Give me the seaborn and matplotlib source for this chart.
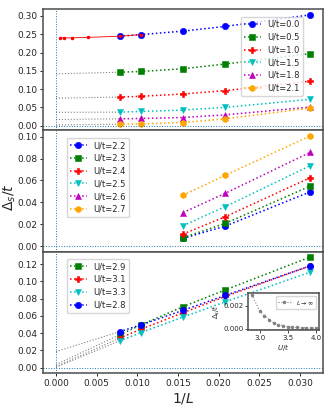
import matplotlib
matplotlib.use('Agg')
import matplotlib.pyplot as plt
from matplotlib.ticker import MultipleLocator
import seaborn as sns

# system sizes
L_all = [128, 96, 64, 48, 32]
L_mid = [64, 48, 32]
L_big = [2048, 1024, 512, 256, 128, 96]

# top panel: U/t = 0.0 ... 2.1
top_labels = ["U/t=0.0", "U/t=0.5", "U/t=1.0", "U/t=1.5", "U/t=1.8", "U/t=2.1"]
top_values = [
    [0.2445, 0.249, 0.2586, 0.2715, 0.303],
    [0.146, 0.148, 0.1555, 0.1685, 0.197],
    [0.078, 0.080, 0.0865, 0.0956, 0.1215],
    [0.0367, 0.0385, 0.0423, 0.0497, 0.0718],
    [0.0184, 0.0193, 0.022, 0.0293, 0.0506],
    [0.0036, 0.0045, 0.0083, 0.0184, 0.0478],
]
top_extrap = [None, 0.1415, 0.0748, 0.0362, 0.0166, 0.0015]
u0_big = [0.2398, 0.2399, 0.2401, 0.2415, 0.2445, 0.249]

# middle panel: U/t = 2.2 ... 2.7
mid_labels = ["U/t=2.2", "U/t=2.3", "U/t=2.4", "U/t=2.5", "U/t=2.6", "U/t=2.7"]
mid_values = [
    [0.0071, 0.0183, 0.0495],
    [0.0077, 0.0208, 0.0547],
    [0.011, 0.0269, 0.0624],
    [0.0187, 0.0361, 0.0734],
    [0.0306, 0.0483, 0.0856],
    [0.0465, 0.0648, 0.1006],
]

# bottom panel: U/t = 2.9, 3.1, 3.3, 2.8
bot_labels = ["U/t=2.9", "U/t=3.1", "U/t=3.3", "U/t=2.8"]
bot_values = [
    [0.0378, 0.0493, 0.0705, 0.090, 0.128],
    [0.034, 0.0443, 0.0635, 0.0824, 0.1178],
    [0.0308, 0.0404, 0.0585, 0.0762, 0.1105],
    [0.0416, 0.0493, 0.0663, 0.0836, 0.1178],
]
bot_extrap = [0.0035, 0.0012, 0.0004, 0.0185]

# inset: extrapolated gap vs U/t
inset_U = [2.85, 3.0, 3.08, 3.17, 3.25, 3.33, 3.42, 3.5, 3.58, 3.67, 3.75, 3.83, 3.92, 4.0]
inset_gap = [0.0030, 0.00154, 0.00115, 0.00077, 0.00049, 0.00034, 0.00026,
             0.00017, 0.00011, 0.0001, 0.00008, 0.00007, 0.00005, 0.00005]

colors6 = ["b", "g", "r", "c", "m", "orange"]
markers6 = ["o", "s", "P", "v", "^", "h"]
bot_colors = ["g", "r", "c", "b"]
bot_markers = ["s", "P", "v", "o"]

sns.set_style("ticks")
plt.rcParams['font.family'] = ['DejaVu Sans']
plt.rcParams['axes.edgecolor'] = '0.3'
plt.rcParams['axes.linewidth'] = 1.1

fig = plt.figure(figsize=(3.32, 4.08), dpi=100)
axes = fig.subplots(3, 1, sharex=True)
fig.subplots_adjust(left=0.1305, right=0.972, top=0.977, bottom=0.0865, hspace=0)

x_all = [1.0 / l for l in L_all]
x_mid = [1.0 / l for l in L_mid]
x_big = [1.0 / l for l in L_big]


def series(ax, x, y, c, m, lab=None):
    sns.lineplot(x=x, y=y, ax=ax, color=c, marker=m, linestyle=':', linewidth=1.1,
                 markersize=4.6, markeredgecolor=c, markeredgewidth=0.4,
                 label=lab, sort=False, legend=False)


def guide(ax, x0, y0, x1, y1):
    ax.plot([x0, x1], [y0, y1], color='gray', linestyle=':', linewidth=0.8)


# top
ax = axes[0]
for i, (lab, vals) in enumerate(zip(top_labels, top_values)):
    if top_extrap[i] is not None:
        guide(ax, 0.0, top_extrap[i], x_all[0], vals[0])
    series(ax, x_all, vals, colors6[i], markers6[i], lab)
ax.plot(x_big, u0_big, color='r', marker='.', markersize=3.0, linewidth=0.6)

# middle
ax = axes[1]
for i, (lab, vals) in enumerate(zip(mid_labels, mid_values)):
    series(ax, x_mid, vals, colors6[i], markers6[i], lab)

# bottom
ax = axes[2]
for i, (lab, vals) in enumerate(zip(bot_labels, bot_values)):
    guide(ax, 0.0, bot_extrap[i], x_all[0], vals[0])
for i, (lab, vals) in enumerate(zip(bot_labels, bot_values)):
    series(ax, x_all, vals, bot_colors[i], bot_markers[i], lab)

for ax in axes:
    ax.axhline(0, color='tab:blue', linestyle=':', linewidth=0.7)
    ax.axvline(0, color='tab:blue', linestyle=':', linewidth=0.7)
    ax.tick_params(labelsize=6.5, length=2.5, width=0.7, pad=2)

axes[0].yaxis.set_major_locator(MultipleLocator(0.05))
axes[1].yaxis.set_major_locator(MultipleLocator(0.02))
axes[2].yaxis.set_major_locator(MultipleLocator(0.02))
axes[2].xaxis.set_major_locator(MultipleLocator(0.005))

leg_kw = dict(fontsize=6.0, borderaxespad=0, handlelength=2.0, labelspacing=0.45)
axes[0].legend(loc='upper right', bbox_to_anchor=(0.93, 0.94), **leg_kw)
axes[1].legend(loc='upper left', bbox_to_anchor=(0.084, 0.94), **leg_kw)
axes[2].legend(loc='upper left', bbox_to_anchor=(0.084, 0.94), **leg_kw)

axes[1].set_ylabel(r'$\Delta_s/t$', fontsize=10)
axes[1].yaxis.set_label_coords(-0.09, 0.45)
axes[2].set_xlabel(r'$1/L$', fontsize=10, labelpad=2)

# inset
ins = fig.add_axes([0.748, 0.192, 0.213, 0.09])
sns.lineplot(x=inset_U, y=inset_gap, ax=ins, color='gray', marker='.', linestyle=':',
             linewidth=0.8, markersize=3.5, markeredgecolor='gray', label=r'$L\to\infty$',
             sort=False, legend=False)
ins.axhline(0, color='tab:blue', linestyle=':', linewidth=0.7)
ins.xaxis.set_major_locator(MultipleLocator(0.5))
ins.yaxis.set_major_locator(MultipleLocator(0.002))
ins.tick_params(labelsize=5, length=2, width=0.6, pad=1.5)
ins.set_xlabel(r'$U/t$', fontsize=5, labelpad=1)
ins.set_ylabel(r'$\Delta_s/t$', fontsize=5, labelpad=1)
ins.legend(loc='upper right', fontsize=4.5, handlelength=2.0)

fig.savefig('out.png', dpi=100)
